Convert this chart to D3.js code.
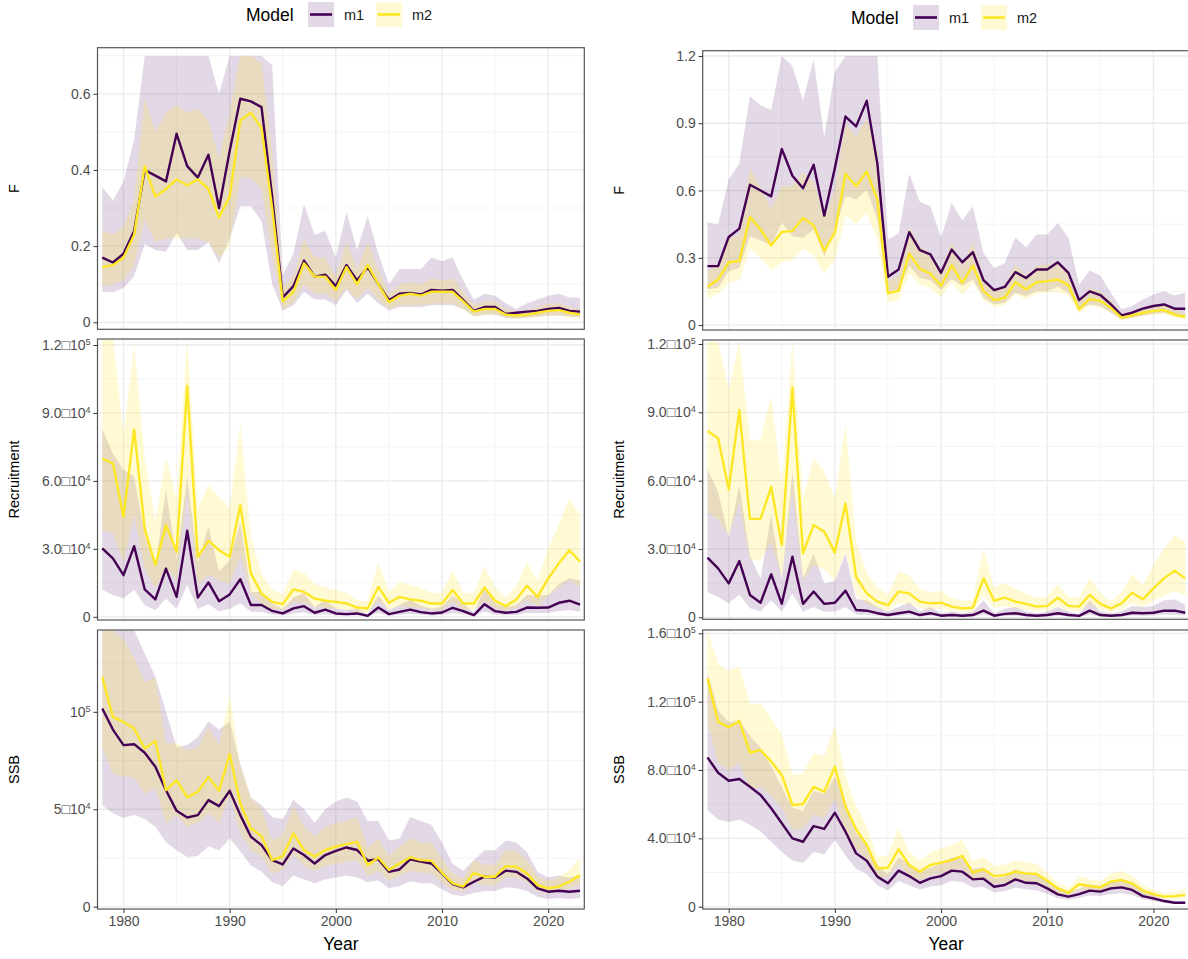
<!DOCTYPE html>
<html><head><meta charset="utf-8">
<script src="https://cdn.jsdelivr.net/npm/d3@7"></script>
<style>
body{margin:0;background:#fff}
svg{display:block;font-family:"Liberation Sans",Arial,sans-serif}
</style>
</head><body>
<svg id="chart" width="1188" height="959"></svg>
<script>
// ---------------- DATA ----------------
const years = [1978,1979,1980,1981,1982,1983,1984,1985,1986,1987,1988,1989,1990,1991,1992,1993,1994,1995,1996,1997,1998,1999,2000,2001,2002,2003,2004,2005,2006,2007,2008,2009,2010,2011,2012,2013,2014,2015,2016,2017,2018,2019,2020,2021,2022,2023];
const models = ["m1","m2"];
const yearTicks = [1980,1990,2000,2010,2020];
const yearMinor = [1985,1995,2005,2015];

// Left figure - F
const leftF_m1 = [0.17,0.157,0.18,0.24,0.40,0.385,0.37,0.495,0.41,0.38, 0.44,0.30,0.45,0.587,0.58,0.565,0.33,0.065,0.095,0.162, 0.12,0.125,0.095,0.15,0.11,0.145,0.10,0.058,0.075,0.077, 0.073,0.085,0.083,0.085,0.058,0.03,0.04,0.04,0.022,0.025, 0.028,0.03,0.035,0.038,0.03,0.028];
const leftF_m1_lo = [0.08,0.078,0.09,0.12,0.205,0.19,0.185,0.235,0.19,0.19, 0.21,0.155,0.22,0.305,0.305,0.265,0.10,0.03,0.045,0.08, 0.06,0.06,0.045,0.085,0.05,0.075,0.05,0.03,0.04,0.04, 0.04,0.045,0.045,0.045,0.035,0.015,0.02,0.02,0.012,0.01, 0.012,0.015,0.017,0.018,0.015,0.013];
const leftF_m1_hi = [0.355,0.32,0.37,0.48,0.70,0.70,0.70,0.70,0.70,0.70, 0.70,0.60,0.70,0.70,0.70,0.70,0.675,0.125,0.18,0.31, 0.23,0.24,0.17,0.29,0.19,0.28,0.18,0.10,0.14,0.14, 0.14,0.17,0.16,0.17,0.11,0.06,0.075,0.07,0.05,0.035, 0.05,0.06,0.07,0.075,0.065,0.065];
const leftF_m2 = [0.145,0.15,0.17,0.23,0.41,0.33,0.35,0.375,0.36,0.375, 0.35,0.275,0.33,0.53,0.55,0.51,0.30,0.055,0.08,0.155, 0.12,0.12,0.085,0.145,0.10,0.15,0.10,0.053,0.07,0.075, 0.07,0.08,0.08,0.08,0.055,0.028,0.035,0.035,0.02,0.018, 0.02,0.025,0.03,0.032,0.025,0.02];
const leftF_m2_lo = [0.095,0.10,0.11,0.15,0.27,0.21,0.22,0.22,0.22,0.22, 0.21,0.17,0.20,0.38,0.38,0.35,0.17,0.035,0.05,0.10, 0.075,0.075,0.055,0.09,0.06,0.09,0.06,0.035,0.045,0.045, 0.045,0.05,0.05,0.05,0.035,0.015,0.02,0.02,0.012,0.01, 0.012,0.014,0.017,0.018,0.014,0.012];
const leftF_m2_hi = [0.24,0.23,0.25,0.32,0.59,0.50,0.55,0.57,0.55,0.56, 0.53,0.43,0.55,0.70,0.70,0.68,0.45,0.09,0.12,0.22, 0.17,0.17,0.12,0.21,0.14,0.21,0.14,0.075,0.10,0.105, 0.10,0.115,0.11,0.115,0.08,0.045,0.055,0.055,0.035,0.028, 0.032,0.04,0.048,0.05,0.04,0.035];

// Left figure - Recruitment
const leftR_m1 = [30200,25800,18400,31200,12100,7700,21300,8800,38000,8500, 15200,6900,9900,16600,5200,5200,2600,1500,3700,4700, 1800,3200,1500,1200,1500,400,4100,1200,2200,3200, 2100,1500,1900,4000,2500,700,5600,2500,1800,2200, 4100,4000,4100,6200,7100,5400];
const leftR_m1_lo = [11800,9600,8100,12000,5000,3000,8000,3500,14000,3500, 5500,2500,3500,6000,2200,2200,1000,600,1500,2000, 700,1300,600,500,600,150,1700,500,900,1300, 900,600,800,1700,1000,250,2300,1000,700,900, 1700,1700,1700,2600,3000,2200];
const leftR_m1_hi = [83000,72000,64800,62000,36000,22000,56000,25000,62000,24000, 40000,20000,25000,42000,11000,11000,6000,3600,8500,10500, 4200,7500,3600,3000,3600,1200,9500,3000,5200,7500, 5000,3600,4500,9500,6000,1800,13000,6000,4300,5200, 9600,9400,9600,14500,17000,16000];
const leftR_m2 = [69900,67700,44200,82700,38600,22800,40500,28700,101900,26500, 33600,29400,26500,49300,19100,10300,6600,5600,12100,11000, 8100,7100,6600,5900,4100,3700,13200,6200,8800,7700, 7100,5900,5900,11800,5900,5900,13000,7100,4700,7700, 13700,8800,16900,23600,29400,24300];
const leftR_m2_lo = [38000,37000,24000,45000,21000,12500,22000,16000,55000,14500, 18500,16000,14500,27000,10500,5500,3600,3000,6600,6000, 4400,3900,3600,3200,2200,2000,7200,3400,4800,4200, 3900,3200,3200,6500,3200,3200,7100,3900,2600,4200, 7500,4800,9300,12800,16500,13200];
const leftR_m2_hi = [123000,123000,80000,120000,70000,42000,70000,52000,123000,48000, 58000,53000,48000,85000,35000,19000,12000,10000,21000,19500, 14500,13000,12000,10500,7500,6800,24000,11000,15500,14000, 12800,10500,10500,20500,10500,10500,22500,12800,8500,13500, 24000,16000,30000,41000,52000,45000];

// Left figure - SSB
const leftS_m1 = [101700,90900,82900,83400,79000,71800,59800,49200,45800,47000, 54700,51600,59500,47000,35900,31600,23900,21700,29900,26500, 22200,26500,28700,30400,29100,23600,24400,17900,19100,24300, 23100,22200,17100,11600,9900,12800,15400,15000,18500,17900, 14500,9400,7700,8200,7700,8200];
const leftS_m1_lo = [52000,48000,45500,47000,45000,41000,33000,29000,25500,26000, 31000,29000,35000,28500,21000,18000,12500,10500,16000,14000, 12000,14000,15000,16000,15000,12500,13500,9500,10500,13000, 12000,12000,9000,6000,5500,7000,8000,8000,10000,9500, 8000,5000,4000,4500,4000,4500];
const leftS_m1_hi = [142000,142000,142000,142000,130000,118000,100000,82000,83000,87000, 95000,91000,95000,73000,56000,52000,46000,45000,55000,50000, 43000,50000,54000,56000,54000,44000,44000,34000,35000,46000, 44000,42000,33000,22000,18500,24000,29000,29000,34000,33000, 28000,18000,15000,16000,15000,16000];
const leftS_m2 = [117900,97400,94800,91400,81200,85100,59800,64900,56100,59000, 66600,59500,78300,53000,40200,36200,23900,26000,37600,29100, 25600,29100,30800,32100,33300,21400,25300,18800,22200,25300, 23900,23600,17400,12000,10300,17400,15400,15400,20800,20500, 17100,11100,9400,10300,12800,16200];
const leftS_m2_lo = [82000,68000,67000,66000,58000,61000,43000,47000,41000,43000, 48000,43000,57000,38000,29000,26000,17000,19000,27000,21000, 18500,21000,22000,23000,24000,15500,18500,13500,16000,18500, 17500,17000,12500,8700,7500,12500,11000,11000,15000,15000, 12500,8000,6800,7500,9500,11500];
const leftS_m2_hi = [142000,142000,137000,128000,115000,118000,84000,84000,80000,82000, 92000,83000,108000,73000,56000,50000,34000,37000,52000,41000, 36000,41000,43000,44000,46000,30000,35000,26000,31000,35000, 33000,33000,24500,17000,14500,24000,21500,21500,29000,28500, 24000,15500,13500,15000,19000,25000];

// Right figure - F
const rightF_m1 = [0.263,0.263,0.393,0.43,0.626,0.60,0.574,0.785,0.666,0.61, 0.715,0.488,0.70,0.93,0.886,1.0,0.72,0.215,0.248,0.414, 0.334,0.315,0.233,0.337,0.28,0.325,0.2,0.156,0.17,0.236, 0.21,0.248,0.248,0.28,0.233,0.111,0.15,0.134,0.092,0.043, 0.055,0.073,0.085,0.092,0.073,0.073];
const rightF_m1_lo = [0.16,0.166,0.24,0.255,0.396,0.378,0.355,0.458,0.396,0.389, 0.426,0.307,0.426,0.574,0.56,0.604,0.47,0.144,0.162,0.263, 0.211,0.199,0.156,0.206,0.174,0.203,0.122,0.092,0.1,0.144, 0.129,0.151,0.151,0.171,0.144,0.07,0.092,0.085,0.055,0.025, 0.033,0.043,0.05,0.055,0.043,0.043];
const rightF_m1_hi = [0.458,0.448,0.65,0.72,1.02,0.98,0.96,1.2,1.155,1.0, 1.185,0.84,1.13,1.2,1.2,1.2,1.2,0.38,0.41,0.675, 0.55,0.53,0.39,0.545,0.467,0.53,0.32,0.255,0.277,0.39, 0.347,0.404,0.404,0.455,0.39,0.181,0.245,0.221,0.144,0.07, 0.085,0.114,0.136,0.151,0.132,0.144];
const rightF_m2 = [0.171,0.203,0.28,0.285,0.482,0.426,0.355,0.415,0.42,0.478, 0.444,0.33,0.414,0.675,0.619,0.685,0.56,0.141,0.154,0.319, 0.251,0.23,0.174,0.266,0.188,0.266,0.151,0.111,0.122,0.191, 0.159,0.191,0.196,0.203,0.177,0.07,0.117,0.107,0.077,0.033, 0.043,0.055,0.062,0.067,0.047,0.036];
const rightF_m2_lo = [0.115,0.14,0.19,0.20,0.34,0.30,0.245,0.28,0.29,0.34, 0.31,0.23,0.29,0.49,0.45,0.50,0.38,0.10,0.11,0.23, 0.18,0.165,0.125,0.19,0.135,0.19,0.11,0.08,0.09,0.14, 0.115,0.14,0.145,0.15,0.13,0.05,0.085,0.08,0.055,0.022, 0.03,0.04,0.045,0.048,0.034,0.025];
const rightF_m2_hi = [0.24,0.27,0.39,0.40,0.70,0.61,0.52,0.62,0.62,0.68, 0.64,0.48,0.60,0.90,0.84,0.92,0.78,0.20,0.22,0.44, 0.35,0.32,0.245,0.37,0.26,0.37,0.21,0.155,0.17,0.27, 0.22,0.265,0.27,0.28,0.245,0.10,0.165,0.15,0.11,0.048, 0.06,0.077,0.087,0.094,0.068,0.052];

// Right figure - Recruitment
const rightR_m1 = [26200,21500,14900,24700,9800,6400,18900,5900,26600,5900, 11300,5900,6400,11700,3200,2900,1800,1000,1800,2500, 1000,1800,700,1000,700,1000,2900,700,1500,1800, 1000,700,1000,1800,1000,600,2900,1000,700,1000, 2000,1800,2000,2900,2900,2000];
const rightR_m1_lo = [11000,9000,6100,10000,4000,2700,7500,2400,10500,2400, 4500,2400,2600,4500,1200,1100,700,400,700,1000, 400,700,250,400,250,400,1100,250,600,700, 400,250,400,700,400,200,1100,400,250,400, 800,700,800,1100,1100,800];
const rightR_m1_hi = [65000,55000,35000,58000,27000,17000,45000,16000,64000,17000, 28000,15000,16000,28000,8000,7500,4500,2500,4500,6500, 2500,4500,1800,2500,1800,2500,7500,1800,3800,4500, 2500,1800,2500,4500,2500,1500,7500,2500,1800,2500, 5000,4500,5000,7500,7800,5500];
const rightR_m2 = [81800,78600,56200,91000,43200,43200,57300,31700,100800,28100, 40500,37600,28400,50000,17800,10500,6900,5300,11300,10500, 6900,6100,6400,4700,3900,4200,17100,7300,8600,6900, 5900,4700,5000,8600,5000,4700,9800,5900,3900,6100, 10800,7900,12700,17100,20500,17100];
const rightR_m2_lo = [46000,43000,36000,50000,25000,25000,33000,18000,55000,16000, 23000,21000,16500,29000,10000,6000,4000,3000,6400,6000, 4000,3500,3700,2700,2300,2400,9700,4200,4900,4000, 3400,2700,2900,4900,2900,2700,5600,3400,2200,3500, 6200,4500,7200,9700,11500,9700];
const rightR_m2_hi = [121000,121000,100000,121000,78000,78000,97000,58000,121000,52000, 70000,64000,52000,85000,33000,19500,13000,10000,20000,18500, 12500,11000,11500,8500,7300,7700,30000,13000,15000,12500, 10500,8500,9000,14500,9000,8500,17500,10500,7000,11000, 19000,14000,23000,30000,36000,33000];

// Right figure - SSB
const rightS_m1 = [87400,78400,73700,74700,70200,65400,57600,48800,40000,38000, 47200,45500,55000,43900,31200,26900,17600,13700,21100,17900, 14000,16600,17900,21100,20500,16000,16400,11700,12700,16000, 14000,13700,10700,7200,5900,7400,9400,8800,10700,11300, 9800,6200,4900,3300,2300,2300];
const rightS_m1_lo = [56600,51000,49500,51000,48000,44000,38000,32000,27000,25500, 32000,30500,39000,30000,22000,19000,12500,9500,15000,12500, 10000,11800,12500,15000,14500,11300,11500,8300,9000,11300, 10000,9600,7500,5000,4100,5200,6600,6200,7500,7900, 6800,4300,3400,2300,1600,1600];
const rightS_m1_hi = [137000,115000,108000,109000,100000,93000,82000,70000,58000,56000, 68000,66000,76000,62000,43000,37000,24500,19000,29000,25000, 19500,23000,25000,29000,28500,22000,23000,16500,17500,22000, 19500,19000,15000,10000,8300,10500,13000,12300,14800,15500, 13500,8600,6800,4700,3300,3300];
const rightS_m2 = [133600,108300,105000,108700,90100,91700,84900,77100,59500,60100, 70200,67300,81900,58500,45300,36100,22400,22800,33600,24400, 20500,24400,25800,27300,29700,19900,21900,17900,18500,20500, 19500,19100,15200,10700,8200,13100,12100,11300,14600,15600, 13700,9400,7400,5900,6200,6800];
const rightS_m2_lo = [108000,84000,80000,84000,69000,70000,65000,58000,45000,46000, 54000,52000,63000,44000,34000,27500,17000,17500,25000,18500, 15500,18500,19500,20800,22500,15000,16500,13500,14000,15500, 15000,14500,11500,8000,6200,9700,9000,8500,11000,11800, 10200,7000,5600,4500,4700,5000];
const rightS_m2_hi = [162000,142000,138000,141000,118000,119000,110000,101000,77000,78000, 90000,88000,106000,76000,59000,47000,29000,30000,46000,32000, 27000,32000,34000,36000,39500,26500,29000,24000,24500,27000, 26000,25000,20000,14000,11000,18000,16000,15000,19500,21000, 18000,12500,10000,8000,8500,10500];

// Tick values / labels
const leftF_ticks = [0,0.2,0.4,0.6], leftF_labels = ["0","0.2","0.4","0.6"], leftF_minor = [0.1,0.3,0.5,0.7];
const rec_ticks = [0,30000,60000,90000,120000], rec_labels = ["0","3.0\u25A110^4","6.0\u25A110^4","9.0\u25A110^4","1.2\u25A110^5"], rec_minor = [15000,45000,75000,105000];
const leftS_ticks = [0,50000,100000], leftS_labels = ["0","5\u25A110^4","10^5"], leftS_minor = [25000,75000,125000];
const rightF_ticks = [0,0.3,0.6,0.9,1.2], rightF_labels = ["0","0.3","0.6","0.9","1.2"], rightF_minor = [0.15,0.45,0.75,1.05];
const rightS_ticks = [0,40000,80000,120000,160000], rightS_labels = ["0","4.0\u25A110^4","8.0\u25A110^4","1.2\u25A110^5","1.6\u25A110^5"], rightS_minor = [20000,60000,100000,140000];

// ---------------- STYLE / LAYOUT ----------------
const col = {m1:"#440154", m2:"#FDE725"};
const fillOp = {m1:0.15, m2:0.2};

const figures = [
  { xRange:[97.5,584.3], legendX:246, legendY:14.5, titleX:14,
    panels:[
      {title:"F", top:47.7, bottom:329.3, domain:[-0.0184,0.721], ticks:leftF_ticks, labels:leftF_labels, minor:leftF_minor,
       s:{m1:[leftF_m1,leftF_m1_lo,leftF_m1_hi], m2:[leftF_m2,leftF_m2_lo,leftF_m2_hi]}},
      {title:"Recruitment", top:339, bottom:620, domain:[-1400,122650], ticks:rec_ticks, labels:rec_labels, minor:rec_minor,
       s:{m1:[leftR_m1,leftR_m1_lo,leftR_m1_hi], m2:[leftR_m2,leftR_m2_lo,leftR_m2_hi]}},
      {title:"SSB", top:630, bottom:909, domain:[-1180,142000], ticks:leftS_ticks, labels:leftS_labels, minor:leftS_minor,
       s:{m1:[leftS_m1,leftS_m1_lo,leftS_m1_hi], m2:[leftS_m2,leftS_m2_lo,leftS_m2_hi]}}
    ]},
  { xRange:[702.7,1189.5], legendX:851, legendY:17.5, titleX:619,
    panels:[
      {title:"F", top:50.7, bottom:330, domain:[-0.022,1.2236], ticks:rightF_ticks, labels:rightF_labels, minor:rightF_minor,
       s:{m1:[rightF_m1,rightF_m1_lo,rightF_m1_hi], m2:[rightF_m2,rightF_m2_lo,rightF_m2_hi]}},
      {title:"Recruitment", top:340, bottom:619.3, domain:[-880,121760], ticks:rec_ticks, labels:rec_labels, minor:rec_minor,
       s:{m1:[rightR_m1,rightR_m1_lo,rightR_m1_hi], m2:[rightR_m2,rightR_m2_lo,rightR_m2_hi]}},
      {title:"SSB", top:630, bottom:909, domain:[-1350,161930], ticks:rightS_ticks, labels:rightS_labels, minor:rightS_minor,
       s:{m1:[rightS_m1,rightS_m1_lo,rightS_m1_hi], m2:[rightS_m2,rightS_m2_lo,rightS_m2_hi]}}
    ]}
];

const svg = d3.select("#chart");
svg.append("rect").attr("width",1188).attr("height",959).attr("fill","#fff");

function writeLabel(sel, label) {
  const parts = label.split("^");
  sel.text(null);
  sel.append("tspan").text(parts[0]);
  if (parts[1]) sel.append("tspan").attr("dy",-5).attr("font-size",9).text(parts[1]);
}

figures.forEach((fig, fi) => {
  const x = d3.scaleLinear().domain([1977.55, 2023.4]).range(fig.xRange);
  const [xl, xr] = fig.xRange;

  // legend
  const lg = svg.append("g");
  const ly = fig.legendY, lx = fig.legendX;
  lg.append("text").attr("x",lx).attr("y",ly+6).attr("font-size",17.5).attr("fill","#000").text("Model");
  models.forEach((m,i) => {
    const kx = lx + 62 + i*68;
    lg.append("rect").attr("x",kx).attr("y",ly-12.5).attr("width",26).attr("height",25)
      .attr("fill",col[m]).attr("fill-opacity",fillOp[m]);
    lg.append("line").attr("x1",kx+2).attr("x2",kx+24).attr("y1",ly).attr("y2",ly)
      .attr("stroke",col[m]).attr("stroke-width",2.6);
    lg.append("text").attr("x",kx+36).attr("y",ly+5.5).attr("font-size",14.5).attr("fill","#1a1a1a").text(m);
  });

  fig.panels.forEach((p, pi) => {
    const y = d3.scaleLinear().domain(p.domain).range([p.bottom, p.top]);
    const g = svg.append("g");
    const clipId = `clip${fi}_${pi}`;
    svg.append("clipPath").attr("id",clipId).append("rect")
      .attr("x",xl).attr("y",p.top).attr("width",xr-xl).attr("height",p.bottom-p.top);

    // grid
    const grid = g.append("g");
    grid.selectAll(".ym").data(p.minor).join("line")
      .attr("x1",xl).attr("x2",xr).attr("y1",d=>y(d)).attr("y2",d=>y(d))
      .attr("stroke","#F2F2F2").attr("stroke-width",0.8);
    grid.selectAll(".xm").data(yearMinor).join("line")
      .attr("x1",d=>x(d)).attr("x2",d=>x(d)).attr("y1",p.top).attr("y2",p.bottom)
      .attr("stroke","#F2F2F2").attr("stroke-width",0.8);
    grid.selectAll(".yM").data(p.ticks).join("line")
      .attr("x1",xl).attr("x2",xr).attr("y1",d=>y(d)).attr("y2",d=>y(d))
      .attr("stroke","#EBEBEB").attr("stroke-width",1.3);
    grid.selectAll(".xM").data(yearTicks).join("line")
      .attr("x1",d=>x(d)).attr("x2",d=>x(d)).attr("y1",p.top).attr("y2",p.bottom)
      .attr("stroke","#EBEBEB").attr("stroke-width",1.3);

    const plot = g.append("g").attr("clip-path",`url(#${clipId})`);
    models.forEach(m => {
      const [mid, lo, hi] = p.s[m];
      const area = d3.area().x((d,i)=>x(years[i])).y0((d,i)=>y(lo[i])).y1((d,i)=>y(hi[i]));
      plot.append("path").datum(mid).attr("d",area).attr("fill",col[m]).attr("fill-opacity",fillOp[m]);
    });
    models.forEach(m => {
      const [mid] = p.s[m];
      const line = d3.line().x((d,i)=>x(years[i])).y(d=>y(d));
      plot.append("path").datum(mid).attr("d",line).attr("fill","none")
        .attr("stroke",col[m]).attr("stroke-width",2.4).attr("stroke-linejoin","round");
    });

    // border
    g.append("rect").attr("x",xl).attr("y",p.top).attr("width",xr-xl).attr("height",p.bottom-p.top)
      .attr("fill","none").attr("stroke","#555").attr("stroke-width",1.2);

    // y axis
    const ya = g.append("g").attr("transform",`translate(${xl},0)`)
      .call(d3.axisLeft(y).tickValues(p.ticks).tickSize(4).tickPadding(3).tickFormat((d,i)=>p.labels[i]));
    ya.select(".domain").remove();
    ya.selectAll(".tick line").attr("stroke","#333").attr("stroke-width",1);
    ya.selectAll(".tick text").attr("font-size",14).attr("fill","#4D4D4D")
      .attr("font-family","'Liberation Sans',Arial,sans-serif")
      .each(function(d,i){ writeLabel(d3.select(this), p.labels[i]); });

    // y title
    g.append("text").attr("transform",`translate(${fig.titleX},${(p.top+p.bottom)/2}) rotate(-90)`)
      .attr("text-anchor","middle").attr("dy","0.35em").attr("font-size",14.5).attr("fill","#000").text(p.title);

    if (pi === fig.panels.length-1) {
      const xa = g.append("g").attr("transform",`translate(0,${p.bottom})`)
        .call(d3.axisBottom(x).tickValues(yearTicks).tickSize(4).tickPadding(3).tickFormat(d3.format("d")));
      xa.select(".domain").remove();
      xa.selectAll(".tick line").attr("stroke","#333").attr("stroke-width",1);
      xa.selectAll(".tick text").attr("font-size",14).attr("fill","#4D4D4D")
        .attr("font-family","'Liberation Sans',Arial,sans-serif");
      g.append("text").attr("x",(xl+xr)/2).attr("y",950).attr("text-anchor","middle")
        .attr("font-size",17.5).attr("fill","#000").text("Year");
    }
  });
});
</script>
</body></html>
